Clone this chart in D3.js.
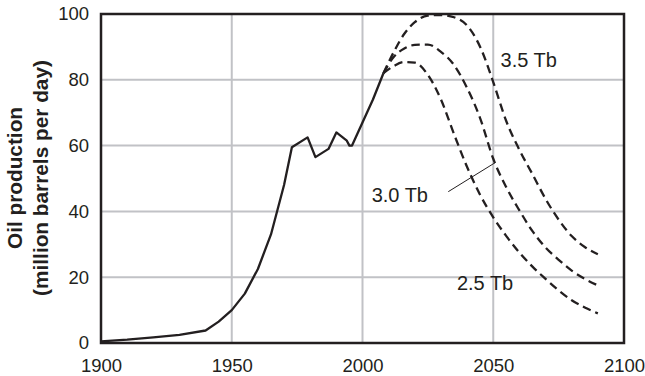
<!DOCTYPE html>
<html>
<head>
<meta charset="utf-8">
<script src="https://cdn.jsdelivr.net/npm/d3@7"></script>
<style>
  body { margin: 0; background: #fff; }
  svg text { font-family: "Liberation Sans", Arial, sans-serif; fill: #231f20; }
</style>
</head>
<body>
<div id="chart"></div>
<script>
// historical production
const histYears  = [1900, 1910, 1920, 1930, 1940, 1945, 1950, 1955, 1960, 1965, 1970, 1973, 1979, 1982, 1987, 1990, 1994, 1995, 1996, 2000, 2004, 2008];
const histValues = [0.5, 1, 1.7, 2.5, 3.8, 6.5, 10, 15, 22.5, 33, 48, 59.5, 62.5, 56.5, 59, 64, 61.5, 60, 60, 67, 74, 82];

// projections by total resource
const scenYears = [2008, 2012, 2016, 2020, 2025, 2030, 2035, 2040, 2045, 2050, 2055, 2060, 2065, 2070, 2075, 2080, 2085, 2090];
const tb35 = [82, 88.5, 94, 97.5, 99.5, 99.7, 99, 96.5, 90, 79.3, 67.4, 58.7, 51.3, 43.8, 37.5, 32.5, 29.2, 27];
const tb30 = [82, 87, 89.5, 90.6, 90.7, 88.5, 84.5, 77.5, 68.3, 56, 47.3, 40.3, 34, 29, 25.3, 22, 19.5, 17.5];
const tb25 = [82, 84.2, 85.4, 85.2, 81.5, 74, 63.5, 53.5, 45, 38.2, 32.5, 27.5, 23.2, 19.5, 16, 13, 10.8, 9];

const xTicks = [1900, 1950, 2000, 2050, 2100];
const yTicks = [0, 20, 40, 60, 80, 100];
const labels = ["3.5 Tb", "3.0 Tb", "2.5 Tb"];

const W = 645, H = 376;
const margin = { top: 14, right: 21, bottom: 33, left: 101 };
const iw = W - margin.left - margin.right;
const ih = H - margin.top - margin.bottom;

const svg = d3.select('#chart').append('svg')
  .attr('width', W)
  .attr('height', H);

const g = svg.append('g')
  .attr('transform', `translate(${margin.left},${margin.top})`);

const x = d3.scaleLinear().domain([1900, 2100]).range([0, iw]);
const y = d3.scaleLinear().domain([0, 100]).range([ih, 0]);

// grid
g.append('g').selectAll('line')
  .data(xTicks.slice(1, -1))
  .join('line')
  .attr('x1', d => x(d)).attr('x2', d => x(d))
  .attr('y1', 0).attr('y2', ih)
  .attr('stroke', '#c1c2c6').attr('stroke-width', 2);
g.append('g').selectAll('line')
  .data(yTicks.slice(1, -1))
  .join('line')
  .attr('x1', 0).attr('x2', iw)
  .attr('y1', d => y(d)).attr('y2', d => y(d))
  .attr('stroke', '#c1c2c6').attr('stroke-width', 2);

// axes (labels only)
const xAxis = g.append('g')
  .attr('transform', `translate(0,${ih})`)
  .call(d3.axisBottom(x).tickValues(xTicks).tickFormat(d3.format('d')).tickSize(0).tickPadding(15.5));
const yAxis = g.append('g')
  .call(d3.axisLeft(y).tickValues(yTicks).tickSize(0).tickPadding(12));
[xAxis, yAxis].forEach(a => {
  a.select('.domain').remove();
  a.selectAll('text').style('font-size', '18.5px').attr('fill', '#231f20');
});

// frame
g.append('rect')
  .attr('width', iw).attr('height', ih)
  .attr('fill', 'none').attr('stroke', '#231f20').attr('stroke-width', 2.5);

// lines
const line = d3.line().x(d => x(d[0])).y(d => y(d[1]));
g.append('path')
  .datum(histYears.map((d, i) => [d, histValues[i]]))
  .attr('d', line)
  .attr('fill', 'none').attr('stroke', '#231f20').attr('stroke-width', 2.3)
  .attr('stroke-linejoin', 'round');

const smooth = d3.line().x(d => x(d[0])).y(d => y(d[1])).curve(d3.curveMonotoneX);
[tb35, tb30, tb25].forEach(vals => {
  g.append('path')
    .datum(scenYears.map((d, i) => [d, vals[i]]))
    .attr('d', smooth)
    .attr('fill', 'none').attr('stroke', '#231f20').attr('stroke-width', 2.3)
    .attr('stroke-dasharray', '8.5,5');
});

// scenario labels
const lab = g.append('g').style('font-size', '20px');
lab.append('text').attr('x', x(2052.8)).attr('y', y(84)).text(labels[0]);
lab.append('text').attr('x', x(2003.5)).attr('y', y(43)).text(labels[1]);
lab.append('text').attr('x', x(2036.1)).attr('y', y(16)).text(labels[2]);
g.append('line')
  .attr('x1', x(2032.8)).attr('y1', y(46))
  .attr('x2', x(2050.7)).attr('y2', y(54.8))
  .attr('stroke', '#231f20').attr('stroke-width', 1);

// y title
const yt = svg.append('text')
  .attr('transform', `translate(0,178) rotate(-90)`)
  .attr('text-anchor', 'middle')
  .style('font-size', '20.8px').style('font-weight', 'bold');
yt.append('tspan').attr('x', 0).attr('y', 22).text('Oil production');
yt.append('tspan').attr('x', 0).attr('y', 48).text('(million barrels per day)');
</script>
</body>
</html>
